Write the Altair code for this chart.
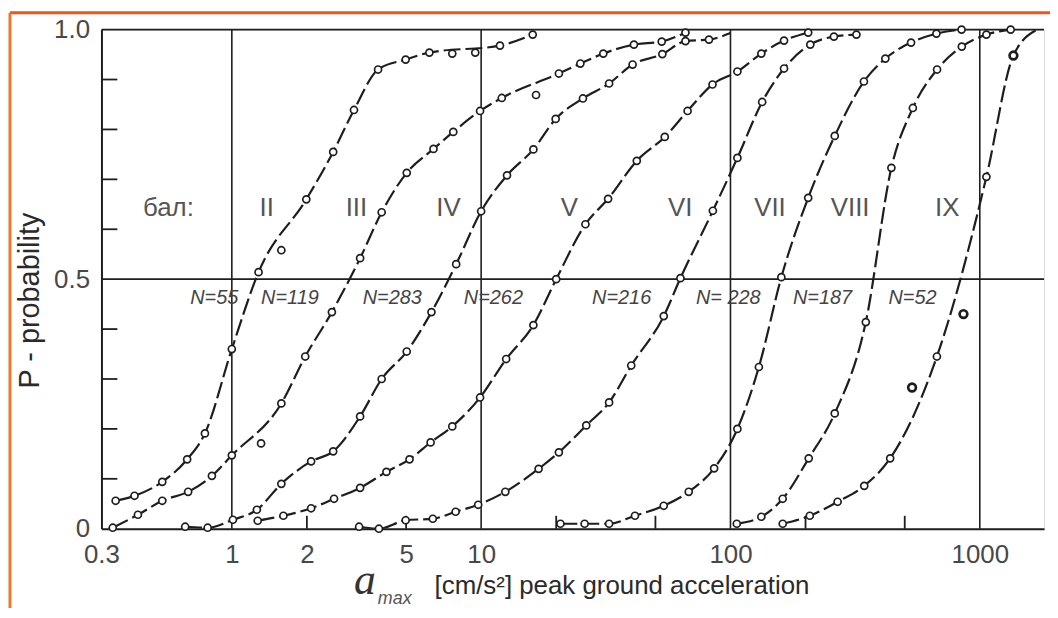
import altair as alt
import pandas as pd

# ---------------- data ----------------
series_names = ["II", "III", "IV", "V", "VI", "VII", "VIII", "IX"]

x_II = [0.342, 0.407, 0.526, 0.662, 0.78, 1.0, 1.28, 1.58, 1.99, 2.55, 3.09, 3.86, 4.98, 6.2, 7.66, 9.47, 11.9, 16.1]
y_II = [0.056, 0.066, 0.094, 0.139, 0.191, 0.36, 0.514, 0.558, 0.66, 0.755, 0.839, 0.92, 0.94, 0.954, 0.952, 0.954, 0.968, 0.99]
k_II = ["p"] * 7 + ["x"] + ["p"] * 6 + ["x", "x", "p", "p"]

x_III = [0.333, 0.42, 0.526, 0.668, 0.832, 1.0, 1.31, 1.58, 1.97, 2.52, 3.27, 3.99, 5.03, 6.44, 7.73, 9.9, 12.1, 16.6, 20.5, 25, 30.9, 41, 53, 66]
y_III = [0.002, 0.028, 0.056, 0.074, 0.106, 0.147, 0.171, 0.251, 0.345, 0.434, 0.542, 0.634, 0.713, 0.761, 0.795, 0.837, 0.863, 0.869, 0.912, 0.932, 0.952, 0.97, 0.976, 0.994]
k_III = ["p"] * 6 + ["x"] + ["p"] * 10 + ["x"] + ["p"] * 6

x_IV = [0.65, 0.80, 1.01, 1.26, 1.58, 2.08, 2.55, 3.27, 3.99, 5.03, 6.32, 7.94, 10.0, 12.7, 16.2, 19.9, 25.6, 32.6, 40.5, 53.3, 66, 82, 100]
y_IV = [0.004, 0.002, 0.018, 0.038, 0.09, 0.135, 0.155, 0.225, 0.30, 0.355, 0.434, 0.53, 0.636, 0.708, 0.76, 0.821, 0.862, 0.892, 0.93, 0.951, 0.977, 0.98, 0.993]
k_IV = ["p"] * 22 + ["l"]

x_V = [1.27, 1.61, 2.08, 2.57, 3.27, 4.17, 5.16, 6.27, 7.66, 9.9, 12.6, 16.2, 20, 26.2, 32.3, 42.1, 54.5, 67.3, 84.7, 106.6, 133, 164, 205]
y_V = [0.016, 0.026, 0.041, 0.06, 0.082, 0.114, 0.139, 0.173, 0.205, 0.263, 0.34, 0.408, 0.50, 0.61, 0.661, 0.737, 0.785, 0.837, 0.89, 0.916, 0.952, 0.978, 0.994]
k_V = ["p"] * 23

x_VI = [3.24, 3.89, 4.98, 6.4, 7.9, 9.73, 12.5, 17, 20.5, 26.4, 32.6, 40, 54, 63, 85, 106.6, 134, 164, 209, 260, 320]
y_VI = [0.004, 0.0, 0.017, 0.02, 0.034, 0.048, 0.074, 0.12, 0.153, 0.207, 0.253, 0.327, 0.426, 0.502, 0.637, 0.743, 0.855, 0.922, 0.97, 0.986, 0.99]
k_VI = ["p"] * 21

x_VII = [20.8, 26, 32.6, 41.4, 54, 68, 86, 106.6, 130, 160, 205, 262, 343, 418, 530, 670, 845]
y_VII = [0.01, 0.01, 0.01, 0.026, 0.046, 0.074, 0.121, 0.2, 0.324, 0.504, 0.663, 0.787, 0.896, 0.942, 0.974, 0.992, 1.0]
k_VII = ["p"] * 17

x_VIII = [106, 133, 162, 206, 262, 349, 442, 539, 674, 847, 1063, 1330]
y_VIII = [0.01, 0.024, 0.06, 0.141, 0.231, 0.414, 0.723, 0.843, 0.92, 0.966, 0.99, 1.0]
k_VIII = ["p"] * 12

x_IX = [162, 208, 269, 344, 437, 535, 673, 860, 1063, 1364, 1700]
y_IX = [0.01, 0.026, 0.054, 0.086, 0.141, 0.283, 0.345, 0.43, 0.705, 0.948, 1.0]
k_IX = ["p", "p", "p", "p", "p", "b", "p", "b", "p", "B", "l"]

label_text = ["бал:", "II", "III", "IV", "V", "VI", "VII", "VIII", "IX"]
label_x = [0.557, 1.38, 3.16, 7.4, 22.6, 62.8, 144, 302, 740]
label_y = [0.643] * 9

n_text = ["N=55", "N=119", "N=283", "N=262", "N=216", "N= 228", "N=187", "N=52"]
n_x = [0.85, 1.71, 4.4, 11.2, 36.6, 98, 234, 537]
n_y = [0.462] * 8

decade_lines = [1, 10, 100, 1000]
hlines = [0.5, 1.0]
x_minor = [2, 5, 20, 50, 200, 500]
y_minor = [0.1, 0.2, 0.3, 0.4, 0.6, 0.7, 0.8, 0.9]
x_tick_values = [0.3, 1, 2, 5, 10, 100, 1000]
y_tick_values = [0, 0.5, 1.0]

# ---------------- build tables ----------------
all_x = [x_II, x_III, x_IV, x_V, x_VI, x_VII, x_VIII, x_IX]
all_y = [y_II, y_III, y_IV, y_V, y_VI, y_VII, y_VIII, y_IX]
all_k = [k_II, k_III, k_IV, k_V, k_VI, k_VII, k_VIII, k_IX]
rows = []
for name, xs, ys, ks in zip(series_names, all_x, all_y, all_k):
    for i, (xv, yv, kv) in enumerate(zip(xs, ys, ks)):
        rows.append({"series": name, "x": xv, "y": yv, "kind": kv, "i": i})
df = pd.DataFrame(rows)
line_df = df[df["kind"].isin(["p", "B", "l"])]
pt_df = df[df["kind"].isin(["p", "x"])]
bold_df = df[df["kind"].isin(["b", "B"])]

W, H = 948, 502
INK = "#1e1e1e"
TXT = "#484848"
FONT = "Liberation Sans"

xscale = alt.Scale(type="log", domain=[0.3, 1810], nice=False)
yscale = alt.Scale(domain=[0, 1], nice=False, zero=False)

xaxis = alt.Axis(
    values=x_tick_values, ticks=False, grid=False, title="",
    labelExpr="datum.value < 1 ? format(datum.value, '.1f') : format(datum.value, 'd')",
    labelPadding=13, labelFontSize=26, labelFont=FONT, labelColor=TXT,
    domainColor=INK, domainWidth=2, labelFlush=False,
)
yaxis = alt.Axis(
    values=y_tick_values, ticks=False, grid=False, title="P -  probability",
    labelExpr="datum.value == 0 ? '0' : format(datum.value, '.1f')",
    labelPadding=12, labelFontSize=26, labelFont=FONT, labelColor=TXT,
    domainColor=INK, domainWidth=2,
    titleFont=FONT, titleFontSize=29, titleFontWeight="normal", titleColor="#2a2a2a",
    titleX=-72, titleY=272, titleAngle=270, titleAlign="center", titleBaseline="middle",
)


def X(field="x"):
    return alt.X(f"{field}:Q", scale=xscale, axis=xaxis)


def Y(field="y"):
    return alt.Y(f"{field}:Q", scale=yscale, axis=yaxis)


# frame decoration (orange page border)
frame_top = alt.Chart(pd.DataFrame({"a": [0]})).mark_rule(color="#ef5418", strokeWidth=3).encode(
    x=alt.value(-92), x2=alt.value(W + 6), y=alt.value(-17)
)
frame_left = alt.Chart(pd.DataFrame({"a": [0]})).mark_rule(color="#e9782c", strokeWidth=3).encode(
    x=alt.value(-92), y=alt.value(-17), y2=alt.value(H + 80)
)

vgrid = alt.Chart(pd.DataFrame({"x": decade_lines})).mark_rule(color=INK, strokeWidth=1.6).encode(
    x=X(), y=alt.value(0), y2=alt.value(H)
)
hgrid = alt.Chart(pd.DataFrame({"y": hlines})).mark_rule(color=INK, strokeWidth=1.8).encode(
    y=Y(), x=alt.value(0), x2=alt.value(W)
)
xminor = alt.Chart(pd.DataFrame({"x": x_minor})).mark_rule(color=INK, strokeWidth=1.8).encode(
    x=X(), y=alt.value(H - 13), y2=alt.value(H)
)
yminor = alt.Chart(pd.DataFrame({"y": y_minor})).mark_rule(color=INK, strokeWidth=1.8).encode(
    y=Y(), x=alt.value(0), x2=alt.value(16)
)

lines = alt.Chart(line_df).mark_line(
    color=INK, strokeWidth=2.2, strokeDash=[17, 5], interpolate="monotone", clip=True
).encode(x=X(), y=Y(), detail="series:N", order="i:Q")

points = alt.Chart(pt_df).mark_point(
    shape="circle", filled=True, fill="white", stroke=INK, strokeWidth=1.7, size=50, opacity=1
).encode(x=X(), y=Y())

bold_points = alt.Chart(bold_df).mark_point(
    shape="circle", filled=True, fill="white", stroke=INK, strokeWidth=2.7, size=60, opacity=1
).encode(x=X(), y=Y())

roman = alt.Chart(pd.DataFrame({"x": label_x, "y": label_y, "t": label_text})).mark_text(
    font=FONT, fontSize=26, color="#555555", align="center", baseline="middle"
).encode(x=X(), y=Y(), text="t:N")

nlabels = alt.Chart(pd.DataFrame({"x": n_x, "y": n_y, "t": n_text})).mark_text(
    font=FONT, fontSize=20, fontStyle="italic", color="#444444", align="center", baseline="middle"
).encode(x=X(), y=Y(), text="t:N")

# x-axis title pieces
t_a = alt.Chart(pd.DataFrame({"t": ["a"]})).mark_text(
    font="Liberation Serif", fontSize=44, fontStyle="italic", color="#333333",
    align="center", baseline="alphabetic"
).encode(x=alt.value(265), y=alt.value(568), text="t:N")
t_max = alt.Chart(pd.DataFrame({"t": ["max"]})).mark_text(
    font=FONT, fontSize=18, fontStyle="italic", color="#555555",
    align="left", baseline="alphabetic"
).encode(x=alt.value(278), y=alt.value(578), text="t:N")
t_rest = alt.Chart(pd.DataFrame({"t": ["[cm/s²] peak ground acceleration"]})).mark_text(
    font=FONT, fontSize=26, color="#2a2a2a", align="left", baseline="alphabetic"
).encode(x=alt.value(335), y=alt.value(568), text="t:N")

chart = alt.layer(
    frame_top, frame_left, vgrid, hgrid, xminor, yminor,
    lines, points, bold_points, roman, nlabels, t_a, t_max, t_rest
).properties(
    width=W, height=H,
    autosize=alt.AutoSizeParams(type="none"),
    padding={"left": 94, "top": 20, "right": 6, "bottom": 78},
).configure_view(stroke=None).configure(background="white")

chart.save("out.html", embed_options={"renderer": "svg", "actions": False})
